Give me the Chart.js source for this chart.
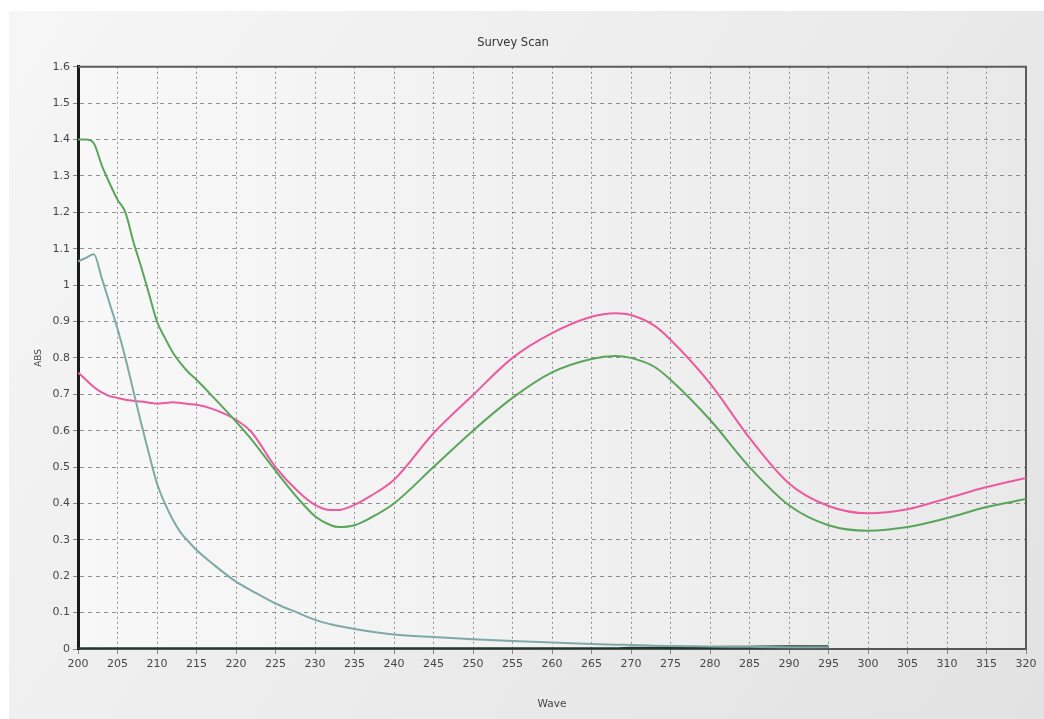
<!DOCTYPE html>
<html>
<head>
<meta charset="utf-8">
<title>Survey Scan</title>
<script src="https://cdn.jsdelivr.net/npm/chart.js@4/dist/chart.umd.min.js"></script>
<style>
  html, body { margin: 0; padding: 0; background: #fff; }
  #wrap { width: 1044px; height: 719px; }
</style>
</head>
<body>
<div id="wrap"><canvas id="scan" width="1044" height="719"></canvas></div>
<script>
// wavelength samples (nm)
const waves = [200, 201, 202, 203, 204, 205, 206, 207, 208, 209, 210, 211, 212, 213, 214, 215,
  217, 220, 222, 225, 228, 230, 232, 233, 235, 237, 240, 245, 250, 255, 260, 265, 268, 270,
  273, 275, 280, 285, 290, 295, 300, 305, 310, 315, 320];

// absorbance per sample
const absGreen = [1.40, 1.40, 1.39, 1.33, 1.28, 1.235, 1.20, 1.12, 1.05, 0.975, 0.90, 0.855, 0.815, 0.785, 0.76, 0.74,
  0.695, 0.625, 0.575, 0.49, 0.41, 0.365, 0.34, 0.335, 0.34, 0.36, 0.40, 0.50, 0.60, 0.69, 0.76, 0.797, 0.805, 0.80,
  0.775, 0.74, 0.63, 0.50, 0.395, 0.34, 0.325, 0.335, 0.36, 0.39, 0.412];

const absPink = [0.76, 0.74, 0.72, 0.705, 0.695, 0.69, 0.685, 0.682, 0.68, 0.677, 0.674, 0.676, 0.678, 0.676, 0.673, 0.671,
  0.66, 0.63, 0.595, 0.50, 0.43, 0.396, 0.382, 0.382, 0.396, 0.42, 0.465, 0.593, 0.698, 0.80, 0.868, 0.913, 0.923, 0.918,
  0.888, 0.85, 0.73, 0.58, 0.455, 0.393, 0.373, 0.384, 0.414, 0.445, 0.47];

const absTeal = [1.065, 1.075, 1.085, 1.02, 0.95, 0.88, 0.80, 0.71, 0.62, 0.535, 0.455, 0.40, 0.355, 0.32, 0.295, 0.272,
  0.235, 0.185, 0.16, 0.125, 0.098, 0.08, 0.068, 0.063, 0.055, 0.048, 0.04, 0.033, 0.027, 0.022, 0.018, 0.014, 0.012, 0.011,
  0.009, 0.008, 0.007, 0.006, 0.005, 0.005, null, null, null, null, null];

const absDark = [0.001, 0.001, 0.001, 0.001, 0.001, 0.001, 0.001, 0.001, 0.001, 0.001, 0.001, 0.001, 0.001, 0.001, 0.001, 0.001,
  0.001, 0.001, 0.001, 0.001, 0.001, 0.001, 0.001, 0.001, 0.001, 0.001, 0.001, 0.001, 0.001, 0.001, 0.001, 0.001, 0.001, 0.002,
  0.002, 0.003, 0.004, 0.005, 0.006, 0.006, null, null, null, null, null];

const FONT = "'DejaVu Sans', Verdana, sans-serif";

const toPoints = (vals) => waves.map((w, i) => ({ x: w, y: vals[i] }));

const line = (vals, color, width) => ({
  data: toPoints(vals),
  borderColor: color,
  borderWidth: width,
  pointRadius: 0,
  fill: false,
  cubicInterpolationMode: "monotone",
  spanGaps: false,
});

// grey panel + plot background
const backdrop = {
  id: "backdrop",
  beforeDraw(chart) {
    const { ctx, chartArea: a, width, height } = chart;
    ctx.save();
    ctx.fillStyle = "#ffffff";
    ctx.fillRect(0, 0, width, height);
    let g = ctx.createLinearGradient(9, 11, width, height);
    g.addColorStop(0, "#f6f6f6");
    g.addColorStop(1, "#e2e2e2");
    ctx.fillStyle = g;
    ctx.fillRect(9, 11, width - 9, height - 11);
    g = ctx.createLinearGradient(a.left, 0, a.right, 0);
    g.addColorStop(0, "#f8f8f8");
    g.addColorStop(1, "#e9e9e9");
    ctx.fillStyle = g;
    ctx.fillRect(a.left, a.top, a.right - a.left, a.bottom - a.top);
    ctx.restore();
  },
  beforeDatasetsDraw(chart) {
    const { ctx, chartArea: a } = chart;
    ctx.save();
    ctx.strokeStyle = "#5c5c5c";
    ctx.lineWidth = 2;
    ctx.beginPath();
    ctx.moveTo(a.left, a.top);
    ctx.lineTo(a.right, a.top);
    ctx.lineTo(a.right, a.bottom);
    ctx.stroke();
    ctx.restore();
  },
};

new Chart(document.getElementById("scan"), {
  type: "line",
  data: {
    datasets: [
      line(absTeal, "#7fa9a8", 2),
      line(absGreen, "#5aa55c", 2),
      line(absPink, "#ec5a9e", 2),
      line(absDark, "#1d3a2c", 3),
    ],
  },
  options: {
    responsive: false,
    animation: false,
    layout: { padding: { left: 0, top: 0, right: 18, bottom: 0 } },
    plugins: {
      legend: { display: false },
      tooltip: { enabled: false },
      title: {
        display: true,
        text: "Survey Scan",
        color: "#333",
        font: { family: FONT, size: 11.5, weight: "normal" },
        padding: { top: 36, bottom: 17 },
      },
    },
    scales: {
      x: {
        type: "linear",
        min: 200,
        max: 320,
        afterFit(scale) { scale.height = 70; },
        ticks: {
          stepSize: 5,
          color: "#474747",
          padding: 4,
          maxRotation: 0,
          font: { family: FONT, size: 11 },
        },
        grid: { color: "rgba(110,110,110,0.75)", lineWidth: 1, tickLength: 5, tickColor: "#888" },
        border: { color: "#555", width: 2, dash: [2, 3] },
        title: {
          display: true,
          text: "Wave",
          color: "#444",
          font: { family: FONT, size: 10.5 },
          padding: { top: 4, bottom: 8 },
        },
      },
      y: {
        min: 0,
        max: 1.6,
        afterFit(scale) { scale.width = 78; },
        ticks: {
          stepSize: 0.1,
          color: "#474747",
          padding: 3,
          font: { family: FONT, size: 11 },
          callback: (v) => String(Number(v.toFixed(1))),
        },
        grid: { color: "rgba(110,110,110,0.75)", lineWidth: 1, tickLength: 5, tickColor: "#888" },
        border: { color: "#1a1a1a", width: 3, dash: [4, 4] },
        title: {
          display: true,
          text: "ABS",
          color: "#444",
          font: { family: FONT, size: 9 },
          padding: { top: 33, bottom: 0 },
        },
      },
    },
  },
  plugins: [backdrop],
});
</script>
</body>
</html>
